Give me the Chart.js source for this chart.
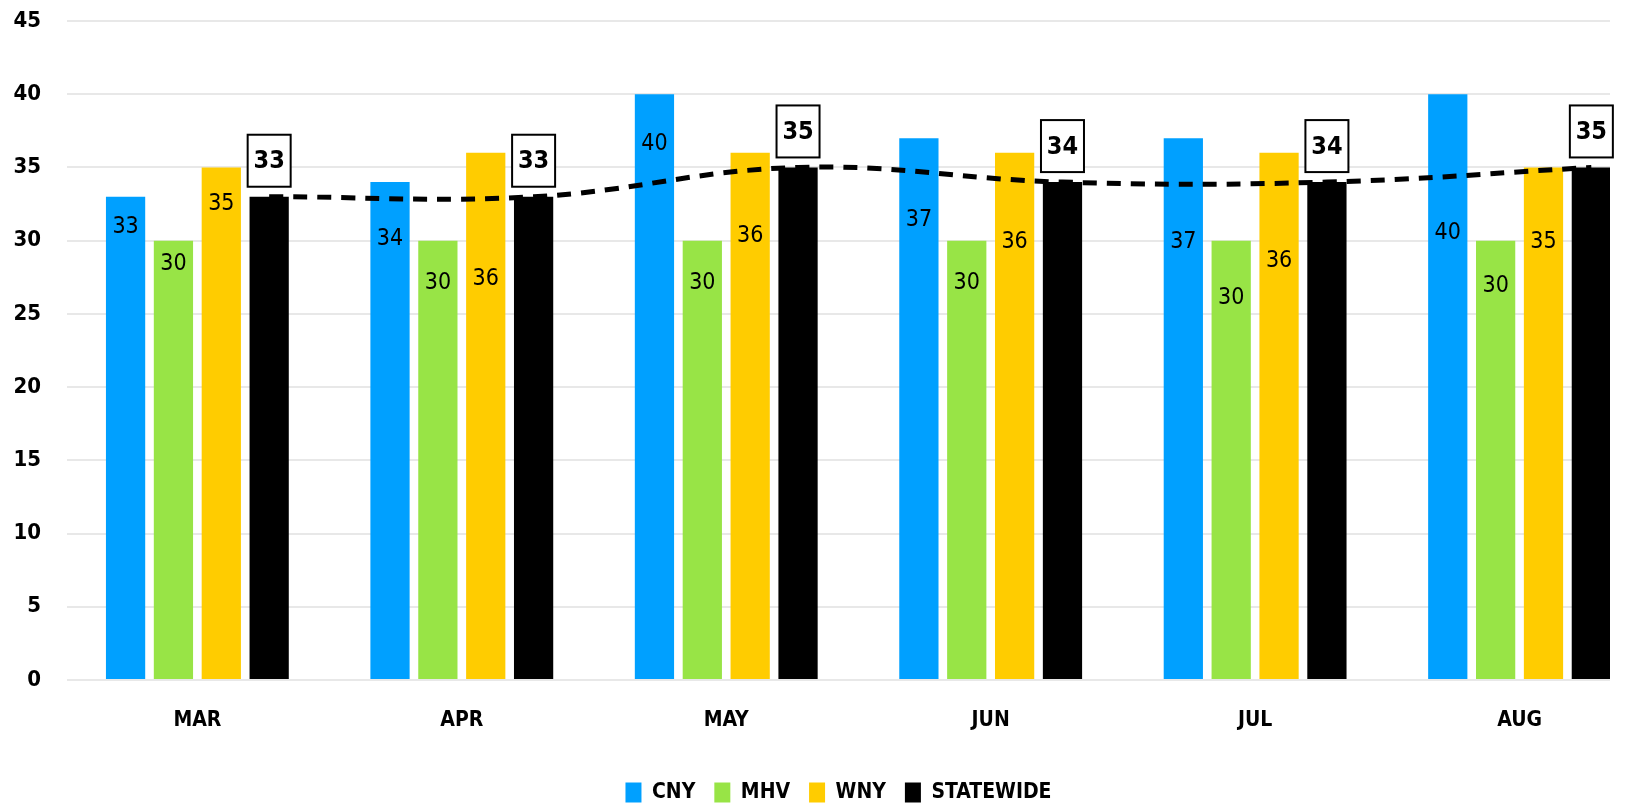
<!DOCTYPE html>
<html>
<head>
<meta charset="utf-8">
<title>Regional comparison</title>
<script src="https://cdn.jsdelivr.net/npm/chart.js@4"></script>
<style>
    html, body { margin: 0; padding: 0; background: #fff; overflow: hidden; }
    #wrap { width: 1629px; height: 805px; }
</style>
</head>
<body>
<div id="wrap"><canvas id="region-bar" width="1629" height="805"></canvas></div>
<script>
    "use strict";

    // Data
    var months = ["MAR", "APR", "MAY", "JUN", "JUL", "AUG"];
    var cny = [33, 34, 40, 37, 37, 40];
    var mhv = [30, 30, 30, 30, 30, 30];
    var wny = [35, 36, 36, 36, 36, 35];
    var statewide = [33, 33, 35, 34, 34, 35];
    var yTicks = [0, 5, 10, 15, 20, 25, 30, 35, 40, 45];

    // where the value labels sit inside the bars (axis units, as dragged in the original)
    var cnyLabelAt = [30.9, 30.1, 36.6, 31.4, 29.9, 30.5];
    var mhvLabelAt = [28.4, 27.1, 27.1, 27.1, 26.1, 26.9];
    var wnyLabelAt = [32.5, 27.4, 30.3, 29.9, 28.6, 29.9];

    var FONT = "'Liberation Sans Narrow', 'DejaVu Sans Condensed', 'Open Sans', sans-serif";
    var CAT_PCT = 0.724;
    var BAR_PCT = 0.82;
    // statewide is the 4th of 4 bars, so the trend line sits on its centre
    var lineShift = CAT_PCT * (3.5 / 4 - 0.5);

    function pts(arr, shift) {
        return arr.map(function (v, i) { return {x: i + shift, y: v}; });
    }

    // Value labels + boxed statewide labels
    var valueLabels = {
        id: "valueLabels",
        afterDatasetsDraw: function (chart) {
            var ctx = chart.ctx;
            var y = chart.scales.y;
            var plain = [[0, cnyLabelAt], [1, mhvLabelAt], [2, wnyLabelAt]];
            ctx.save();
            ctx.textAlign = "center";
            ctx.textBaseline = "middle";
            ctx.fillStyle = "#000";
            ctx.font = "23px " + FONT;
            plain.forEach(function (p) {
                var meta = chart.getDatasetMeta(p[0]);
                var values = chart.data.datasets[p[0]].data;
                meta.data.forEach(function (bar, i) {
                    ctx.fillText(values[i].y, bar.x, y.getPixelForValue(p[1][i]));
                });
            });
            var sMeta = chart.getDatasetMeta(3);
            ctx.font = "bold 25px " + FONT;
            sMeta.data.forEach(function (bar, i) {
                var bw = 43, bh = 52;
                var bx = bar.x - bw / 2;
                var by = bar.y - 10 - bh;
                ctx.fillStyle = "#fff";
                ctx.fillRect(bx, by, bw, bh);
                ctx.lineWidth = 2;
                ctx.strokeStyle = "#000";
                ctx.strokeRect(bx, by, bw, bh);
                ctx.fillStyle = "#000";
                ctx.fillText(statewide[i], bar.x, by + bh / 2 + 1);
            });
            ctx.restore();
        }
    };

    var ctx1 = document.getElementById("region-bar").getContext("2d");
    var myChart1 = new Chart(ctx1, {
        type: "bar",
        data: {
            datasets: [{
                    label: "CNY",
                    data: pts(cny, 0),
                    backgroundColor: "#00a0ff",
                    order: 1
                },
                {
                    label: "MHV",
                    data: pts(mhv, 0),
                    backgroundColor: "#98e446",
                    order: 1
                },
                {
                    label: "WNY",
                    data: pts(wny, 0),
                    backgroundColor: "#ffcc00",
                    order: 1
                },
                {
                    label: "STATEWIDE",
                    data: pts(statewide, 0),
                    backgroundColor: "#000000",
                    order: 1
                },
                {
                    type: "line",
                    label: "trend",
                    data: pts(statewide, lineShift),
                    borderColor: "#000",
                    borderWidth: 5,
                    borderDash: [14, 10],
                    pointRadius: 0,
                    tension: 0.4,
                    fill: false,
                    order: 0
                }
            ]
        },
        options: {
            responsive: false,
            animation: false,
            categoryPercentage: CAT_PCT,
            barPercentage: BAR_PCT,
            layout: {padding: {left: 0, top: 21, right: 19, bottom: -8}},
            plugins: {
                tooltip: {enabled: false},
                legend: {
                    position: "bottom",
                    fullSize: false,
                    labels: {
                        filter: function (item) { return item.text !== "trend"; },
                        boxWidth: 16,
                        boxHeight: 20,
                        padding: 19,
                        color: "#000",
                        font: {family: FONT, size: 21, weight: "bold"}
                    }
                }
            },
            scales: {
                x: {
                    type: "linear",
                    offset: false,
                    min: -0.493,
                    max: 5.342,
                    grid: {display: false, drawTicks: false, offset: false},
                    border: {display: false},
                    afterBuildTicks: function (axis) {
                        axis.ticks = months.map(function (m, i) { return {value: i}; });
                    },
                    afterFit: function (axis) { axis.height = 83; },
                    ticks: {
                        padding: 28,
                        maxRotation: 0,
                        color: "#000",
                        font: {family: FONT, size: 21, weight: "bold"},
                        callback: function (v) { return months[v]; }
                    }
                },
                y: {
                    min: 0,
                    max: 45,
                    afterBuildTicks: function (axis) {
                        axis.ticks = yTicks.map(function (v) { return {value: v}; });
                    },
                    afterFit: function (axis) {
                        axis.width = 67;
                        axis.paddingTop = 0;
                        axis.paddingBottom = 0;
                    },
                    grid: {color: "#e8e8e8", lineWidth: 2, drawTicks: false},
                    border: {display: false},
                    ticks: {
                        padding: 26,
                        color: "#000",
                        font: {family: FONT, size: 22, weight: "bold"}
                    }
                }
            }
        },
        plugins: [valueLabels]
    });
</script>
</body>
</html>
